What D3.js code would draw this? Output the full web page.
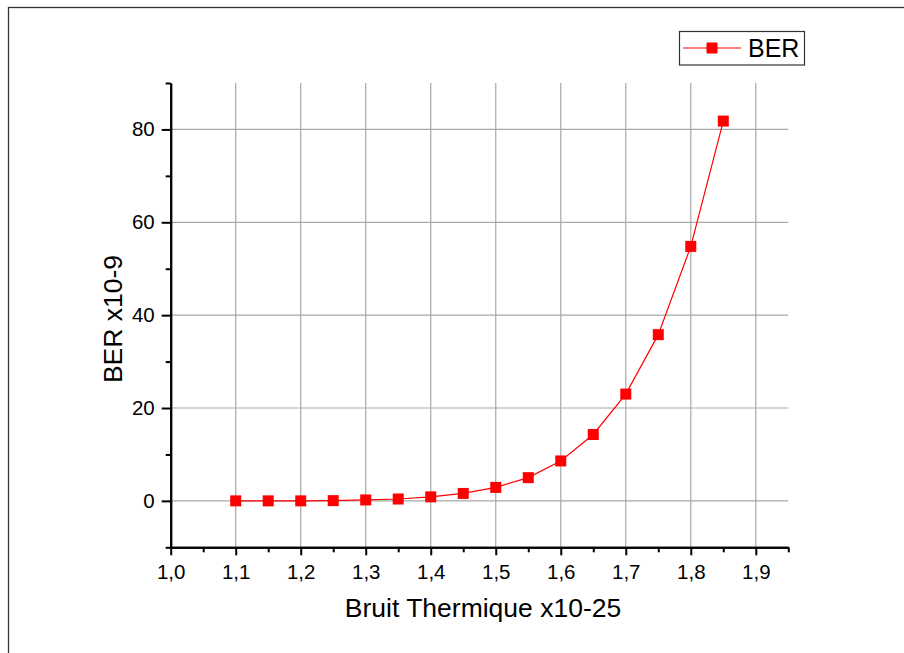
<!DOCTYPE html>
<html>
<head>
<meta charset="utf-8">
<script src="https://cdn.jsdelivr.net/npm/d3@7"></script>
<style>
  html, body { margin: 0; padding: 0; background: #fff; }
  svg { display: block; }
  text { font-family: Arial, "Liberation Sans", sans-serif; fill: #000; }
</style>
</head>
<body>
<svg id="chart" width="904" height="653"></svg>
<script>
// ---- data ----
const xValues = [1.10, 1.15, 1.20, 1.25, 1.30, 1.35, 1.40, 1.45, 1.50, 1.55, 1.60, 1.65, 1.70, 1.75, 1.80, 1.85];
const berValues = [0.0, 0.0, 0.0, 0.05, 0.2, 0.4, 0.86, 1.6, 2.9, 5.0, 8.6, 14.3, 23.0, 35.8, 54.8, 81.8];
const xMajorTicks = [1.0, 1.1, 1.2, 1.3, 1.4, 1.5, 1.6, 1.7, 1.8, 1.9];
const xMinorTicks = [1.05, 1.15, 1.25, 1.35, 1.45, 1.55, 1.65, 1.75, 1.85, 1.95];
const yMajorTicks = [0, 20, 40, 60, 80];
const yMinorTicks = [-10, 10, 30, 50, 70, 90];
const seriesName = "BER";
const xTitle = "Bruit Thermique x10-25";
const yTitle = "BER x10-9";

// ---- layout ----
const svg = d3.select("#chart");
const pL = 170.7, pR = 788.3, pT = 83, pB = 547.3;
const x = d3.scaleLinear().domain([1.0, 1.95]).range([pL, pR]);
const y = d3.scaleLinear().domain([-10, 90]).range([pB, pT]);
const fmt = v => d3.format(".1f")(v).replace(".", ",");

// outer frame
svg.append("rect")
  .attr("x", 8.5).attr("y", 7.5).attr("width", 1000).attr("height", 1000)
  .attr("fill", "none").attr("stroke", "#333").attr("stroke-width", 1.3);

// grid
const grid = svg.append("g").attr("stroke", "#a8a8a8").attr("stroke-width", 1.2);
grid.selectAll("line.v").data(xMajorTicks.filter(d => d > 1.0)).join("line")
  .attr("class", "v")
  .attr("x1", d => x(d)).attr("x2", d => x(d))
  .attr("y1", pT).attr("y2", pB);
grid.selectAll("line.h").data(yMajorTicks).join("line")
  .attr("class", "h")
  .attr("x1", pL).attr("x2", pR)
  .attr("y1", d => y(d)).attr("y2", d => y(d));

// axes
function styleAxis(g) {
  g.select(".domain").attr("stroke", "#000").attr("stroke-width", 2);
  g.selectAll(".tick line").attr("stroke", "#000").attr("stroke-width", 2);
  g.selectAll(".tick text").style("font-size", "20.5px").attr("fill", "#000")
    .style("font-family", "Arial, 'Liberation Sans', sans-serif");
}
const xAxisMinor = svg.append("g").attr("transform", `translate(0,${pB})`)
  .call(d3.axisBottom(x).tickValues(xMinorTicks).tickSize(5).tickSizeOuter(0).tickFormat(""));
styleAxis(xAxisMinor);
const xAxis = svg.append("g").attr("transform", `translate(0,${pB})`)
  .call(d3.axisBottom(x).tickValues(xMajorTicks).tickSize(8).tickSizeOuter(0).tickPadding(9).tickFormat(fmt));
styleAxis(xAxis);

const yAxisMinor = svg.append("g").attr("transform", `translate(${pL},0)`)
  .call(d3.axisLeft(y).tickValues(yMinorTicks).tickSize(5).tickSizeOuter(0).tickFormat(""));
styleAxis(yAxisMinor);
const yAxis = svg.append("g").attr("transform", `translate(${pL},0)`)
  .call(d3.axisLeft(y).tickValues(yMajorTicks).tickSize(9).tickSizeOuter(0).tickPadding(7).tickFormat(d3.format("d")));
styleAxis(yAxis);

// axis titles
svg.append("text")
  .attr("x", 483).attr("y", 616.5)
  .attr("text-anchor", "middle")
  .style("font-size", "26.5px")
  .text(xTitle);
svg.append("text")
  .attr("transform", `translate(122,319) rotate(-90)`)
  .attr("text-anchor", "middle")
  .style("font-size", "26.5px")
  .text(yTitle);

// series
const pts = xValues.map((v, i) => ({x: v, y: berValues[i]}));
svg.append("path")
  .datum(pts)
  .attr("fill", "none").attr("stroke", "#ff0000").attr("stroke-width", 1.2)
  .attr("d", d3.line().x(d => x(d.x)).y(d => y(d.y)));
const ms = 11;
svg.selectAll("rect.pt").data(pts).join("rect")
  .attr("class", "pt")
  .attr("x", d => x(d.x) - ms / 2).attr("y", d => y(d.y) - ms / 2)
  .attr("width", ms).attr("height", ms)
  .attr("fill", "#ff0000");

// legend
const lg = svg.append("g");
lg.append("rect")
  .attr("x", 679.5).attr("y", 31.5).attr("width", 125).attr("height", 33.5)
  .attr("fill", "#fff").attr("stroke", "#333").attr("stroke-width", 1.2);
lg.append("line")
  .attr("x1", 683).attr("x2", 741).attr("y1", 48).attr("y2", 48)
  .attr("stroke", "#ff0000").attr("stroke-width", 1.2);
lg.append("rect")
  .attr("x", 712 - 5.5).attr("y", 48 - 5.5).attr("width", 11).attr("height", 11)
  .attr("fill", "#ff0000");
lg.append("text")
  .attr("x", 748).attr("y", 57.3)
  .style("font-size", "25px")
  .text(seriesName);
</script>
</body>
</html>
